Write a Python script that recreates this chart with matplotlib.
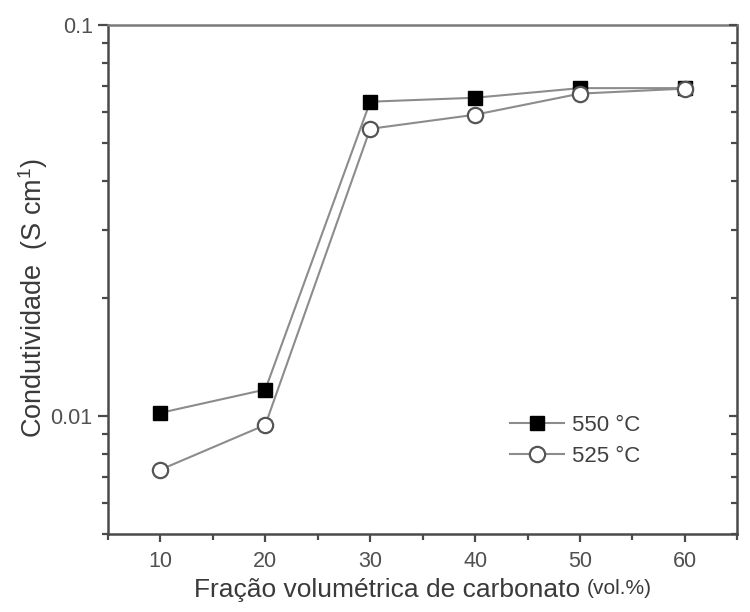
import matplotlib
matplotlib.use("Agg")
import matplotlib.pyplot as plt
from matplotlib.ticker import MultipleLocator, LogLocator, NullFormatter, FixedLocator

plt.rcParams['font.family'] = ['Liberation Sans', 'DejaVu Sans']

frac = [10, 20, 30, 40, 50, 60]
cond_550 = [0.0102, 0.0117, 0.0637, 0.0652, 0.0690, 0.0690]
cond_525 = [0.0073, 0.0095, 0.0543, 0.0590, 0.0668, 0.0688]
labels = ['550 °C', '525 °C']

fig = plt.figure(figsize=(7.5, 6.12), dpi=100)
ax = fig.add_axes([0.144, 0.1275, 0.839, 0.8315])

line_col = '#8c8c8c'
ax.plot(frac, cond_550, color=line_col, lw=1.5, marker='s', ms=10.5,
        mfc='black', mec='black', label=labels[0], zorder=3)
ax.plot(frac, cond_525, color=line_col, lw=1.5, marker='o', ms=11,
        mfc='white', mec='#555555', mew=1.6, label=labels[1], zorder=3)

ax.set_yscale('log')
ax.set_xlim(5, 65)
ax.set_ylim(0.005, 0.1)

ax.xaxis.set_major_locator(FixedLocator(frac))
ax.xaxis.set_minor_locator(MultipleLocator(5))
ax.yaxis.set_major_locator(FixedLocator([0.01, 0.1]))
ax.yaxis.set_major_formatter(plt.FuncFormatter(lambda v, p: '0.1' if v > 0.05 else '0.01'))
ax.yaxis.set_minor_locator(LogLocator(base=10, subs=range(2, 10)))
ax.yaxis.set_minor_formatter(NullFormatter())

spine_col = '#4a4a4a'
for s in ax.spines.values():
    s.set_color(spine_col)
    s.set_linewidth(1.8)
ax.spines['top'].set_color('#7a7a7a')

ax.tick_params(axis='x', which='both', direction='out', bottom=True, top=False,
               color=spine_col, width=1.6, labelsize=15.5, labelcolor='#505050', pad=6)
ax.tick_params(axis='x', which='major', length=6)
ax.tick_params(axis='x', which='minor', length=4)
ax.tick_params(axis='y', which='both', left=True, right=False, direction='out',
               color=spine_col, width=1.6, labelsize=15.5, labelcolor='#505050', pad=4)
ax.tick_params(axis='y', which='major', length=7)
ax.tick_params(axis='y', which='minor', length=4)

# inward ticks on the right spine
ax2 = ax.twinx()
ax2.set_yscale('log')
ax2.set_ylim(ax.get_ylim())
ax2.yaxis.set_major_locator(FixedLocator([0.01, 0.1]))
ax2.yaxis.set_minor_locator(LogLocator(base=10, subs=range(2, 10)))
ax2.yaxis.set_major_formatter(NullFormatter())
ax2.yaxis.set_minor_formatter(NullFormatter())
ax2.tick_params(axis='y', which='both', direction='in', color=spine_col, width=1.6)
ax2.tick_params(axis='y', which='major', length=6)
ax2.tick_params(axis='y', which='minor', length=4)
for s in ax2.spines.values():
    s.set_visible(False)

leg = ax.legend(loc='upper left', bbox_to_anchor=(0.625, 0.252), frameon=False,
                fontsize=16, handlelength=2.4, handletextpad=0.4, labelspacing=0.45,
                borderaxespad=0)
for t in leg.get_texts():
    t.set_color('#404040')

fig.text(0.044, 0.513, 'Condutividade  (S cm$^{\\mathregular{1}}$)', rotation=90,
         ha='center', va='center', fontsize=19.5, color='#3a3a3a')
fig.text(0.516, 0.036, 'Fração volumétrica de carbonato', ha='center', va='center',
         fontsize=19, color='#3a3a3a')
fig.text(0.782, 0.038, '(vol.%)', ha='left', va='center', fontsize=15, color='#3a3a3a')

fig.savefig('out.png', dpi=100)
